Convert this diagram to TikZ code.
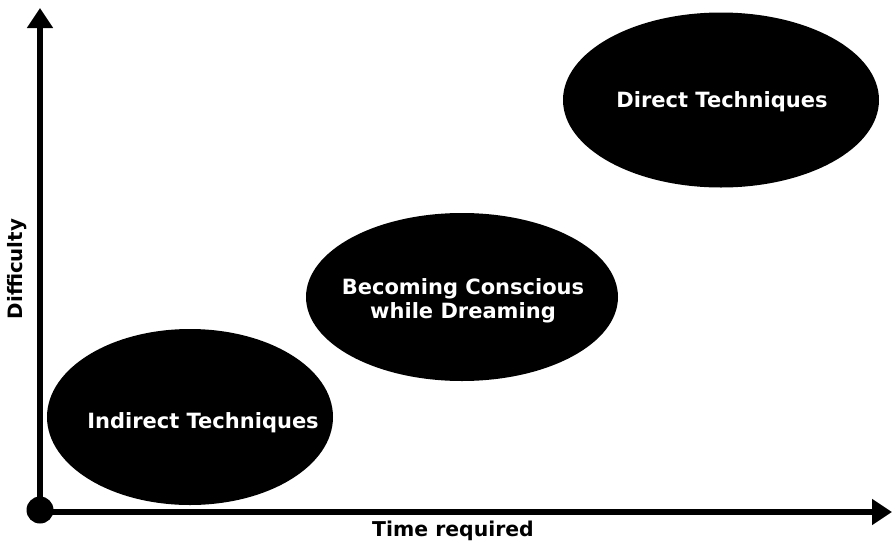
\documentclass[tikz,border=0pt]{standalone}
\usepackage{fontspec}
\setmainfont{DejaVu Sans}
\usetikzlibrary{arrows.meta,shapes.geometric}
\begin{document}
\begin{tikzpicture}[x=1pt,y=-1pt,
  blobtext/.style={font=\fontsize{21}{24.5}\selectfont\bfseries,text=white,align=center,inner sep=0pt},
  blob/.style={ellipse,fill=black,draw=none,inner sep=0pt},
  axis/.style={line width=5.5pt,-{Triangle[length=20pt,width=25pt]}},
  axlabel/.style={text=black,inner sep=0pt}]
\useasboundingbox (0,0) rectangle (892,544);
\fill[white] (0,0) rectangle (892,544);
% ellipses
\node[blob,minimum width=286pt,minimum height=176pt] (ind) at (190,417) {};
\node[blobtext] (indt) at (203,423) {Indirect Techniques};
\node[blob,minimum width=312pt,minimum height=168pt] (bec) at (462,297) {};
\node[blobtext] (bect) at (463,301) {Becoming Conscious\\while Dreaming};
\node[blob,minimum width=316pt,minimum height=175pt] (dir) at (721,100) {};
\node[blobtext] (dirt) at (722,102) {Direct Techniques};
% axes
\coordinate (xs) at (40,512);
\coordinate (ytip) at (40,8);
\coordinate (xtip) at (892,512);
\draw[axis] (xs) -- (xtip);
\draw[axis] (xs) -- (ytip);
\node[circle,fill=black,minimum size=27pt,inner sep=0pt] (o) at (40,510) {};
% labels
\node[axlabel,font=\fontsize{20.4}{24}\selectfont\bfseries] (tl) at (453,531) {Time required};
\node[axlabel,font=\fontsize{19.8}{24}\selectfont\bfseries,rotate=90] (dl) at (17,269) {Difficulty};
\end{tikzpicture}
\end{document}
